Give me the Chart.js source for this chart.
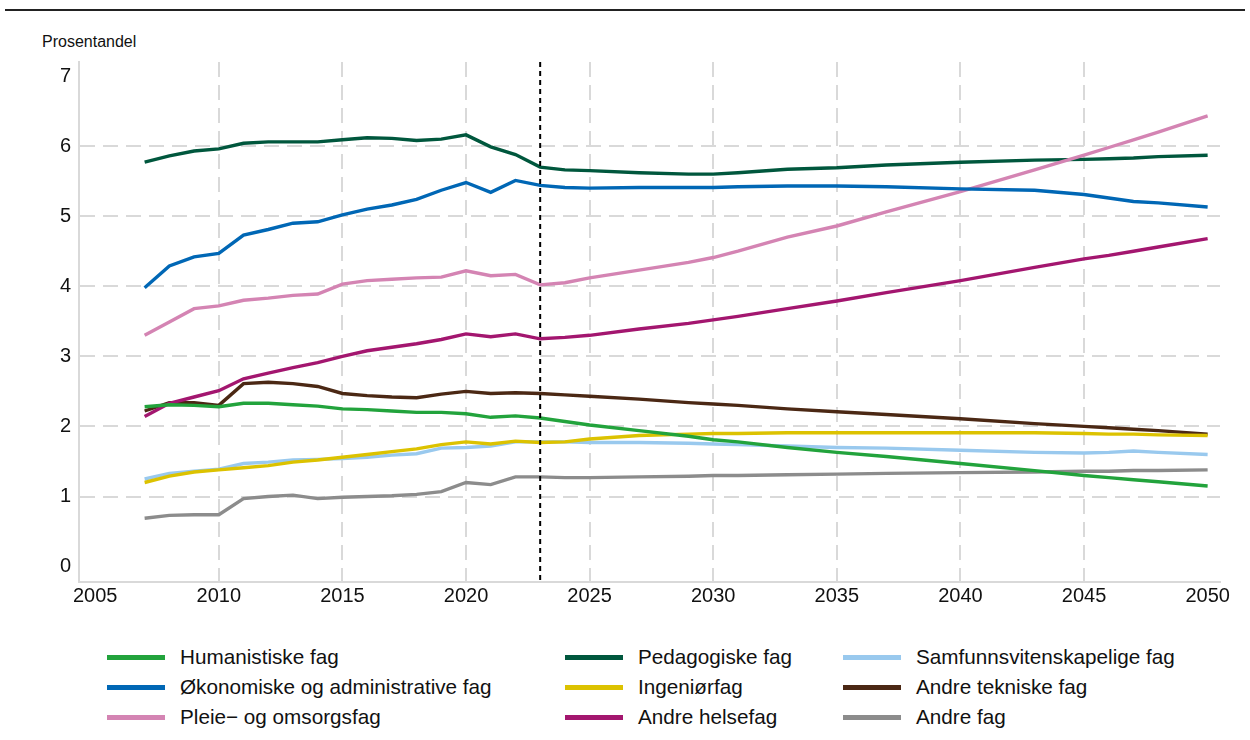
<!DOCTYPE html>
<html lang="no">
<head>
<meta charset="UTF-8">
<title>Prosentandel etter fagfelt</title>
<script src="https://cdn.jsdelivr.net/npm/chart.js"></script>
<style>
    body, html {
        margin: 0;
        padding: 0;
        background: #fff;
        font-family: "Liberation Sans", Arial, sans-serif;
    }
    .page {
        position: relative;
        width: 1250px;
        height: 740px;
        overflow: hidden;
    }
    .top-rule {
        position: absolute;
        left: 5px;
        right: 5px;
        top: 9px;
        height: 2px;
        background: #222;
    }
    .y-title {
        position: absolute;
        left: 42px;
        top: 33px;
        font-size: 16px;
        color: #111;
    }
    .chart-box {
        position: absolute;
        left: 0;
        top: 0;
        width: 1250px;
        height: 610px;
    }
    .legend {
        position: absolute;
        top: 642px;
        left: 0;
        width: 1250px;
    }
    .legend-item {
        position: absolute;
        height: 30px;
        font-size: 20.7px;
        color: #111;
        white-space: nowrap;
    }
    .legend-item span.swatch {
        position: absolute;
        left: 0;
        top: 13px;
        width: 58px;
        height: 5px;
    }
    .legend-item span.label {
        position: absolute;
        left: 73px;
        top: 3px;
    }
</style>
</head>
<body>
<div class="page">
    <div class="top-rule"></div>
    <div class="y-title">Prosentandel</div>
    <div class="chart-box"><canvas id="chart"></canvas></div>
    <div class="legend" id="legend"></div>
</div>
<script>
// years: annual history, then the projection years
const years = [2007, 2008, 2009, 2010, 2011, 2012, 2013, 2014, 2015, 2016, 2017, 2018, 2019, 2020, 2021, 2022, 2023, 2024,
               2025, 2027, 2029, 2030, 2031, 2033, 2035, 2037, 2040, 2043, 2045, 2046, 2047, 2048, 2050];

const humanistiske = [2.28, 2.31, 2.30, 2.28, 2.33, 2.33, 2.31, 2.29, 2.25, 2.24, 2.22, 2.20, 2.20, 2.18, 2.13, 2.15, 2.12, 2.07,
                      2.02, 1.94, 1.86, 1.81, 1.78, 1.70, 1.63, 1.57, 1.47, 1.37, 1.30, 1.27, 1.24, 1.21, 1.15];
const pedagogiske = [5.77, 5.86, 5.93, 5.96, 6.04, 6.06, 6.06, 6.06, 6.09, 6.12, 6.11, 6.08, 6.10, 6.16, 5.99, 5.88, 5.70, 5.66,
                     5.65, 5.62, 5.60, 5.60, 5.62, 5.67, 5.69, 5.73, 5.77, 5.80, 5.81, 5.82, 5.83, 5.85, 5.87];
const samfunn = [1.25, 1.33, 1.36, 1.39, 1.47, 1.49, 1.52, 1.53, 1.54, 1.56, 1.59, 1.61, 1.69, 1.70, 1.72, 1.78, 1.78, 1.78,
                 1.77, 1.77, 1.76, 1.75, 1.74, 1.72, 1.70, 1.69, 1.66, 1.63, 1.62, 1.63, 1.65, 1.63, 1.60];
const okonomiske = [3.98, 4.29, 4.42, 4.47, 4.73, 4.81, 4.90, 4.92, 5.02, 5.10, 5.16, 5.24, 5.37, 5.48, 5.34, 5.51, 5.44, 5.41,
                    5.40, 5.41, 5.41, 5.41, 5.42, 5.43, 5.43, 5.42, 5.39, 5.37, 5.31, 5.26, 5.21, 5.19, 5.13];
const ingenior = [1.20, 1.29, 1.35, 1.38, 1.41, 1.44, 1.49, 1.52, 1.56, 1.60, 1.64, 1.68, 1.74, 1.78, 1.75, 1.79, 1.77, 1.78,
                  1.82, 1.87, 1.89, 1.90, 1.90, 1.91, 1.91, 1.91, 1.91, 1.91, 1.90, 1.89, 1.89, 1.88, 1.87];
const tekniske = [2.22, 2.34, 2.34, 2.30, 2.61, 2.63, 2.61, 2.57, 2.47, 2.44, 2.42, 2.41, 2.46, 2.50, 2.47, 2.48, 2.47, 2.45,
                  2.43, 2.39, 2.34, 2.32, 2.30, 2.25, 2.21, 2.17, 2.11, 2.04, 2.00, 1.98, 1.96, 1.94, 1.89];
const pleie = [3.30, 3.49, 3.68, 3.72, 3.80, 3.83, 3.87, 3.89, 4.03, 4.08, 4.10, 4.12, 4.13, 4.22, 4.15, 4.17, 4.02, 4.05,
               4.12, 4.23, 4.34, 4.41, 4.50, 4.70, 4.86, 5.06, 5.35, 5.66, 5.87, 5.98, 6.09, 6.20, 6.43];
const helsefag = [2.14, 2.33, 2.42, 2.51, 2.68, 2.76, 2.84, 2.91, 3.00, 3.08, 3.13, 3.18, 3.24, 3.32, 3.28, 3.32, 3.25, 3.27,
                  3.30, 3.39, 3.47, 3.52, 3.57, 3.68, 3.79, 3.91, 4.08, 4.27, 4.39, 4.44, 4.50, 4.56, 4.68];
const andreFag = [0.69, 0.73, 0.74, 0.74, 0.97, 1.00, 1.02, 0.97, 0.99, 1.00, 1.01, 1.03, 1.07, 1.20, 1.17, 1.28, 1.28, 1.27,
                  1.27, 1.28, 1.29, 1.30, 1.30, 1.31, 1.32, 1.33, 1.34, 1.35, 1.36, 1.36, 1.37, 1.37, 1.38];

const xTicks = [2005, 2010, 2015, 2020, 2025, 2030, 2035, 2040, 2045, 2050];
const yTicks = [0, 1, 2, 3, 4, 5, 6, 7];
const markerYear = 2023;

// legend order: column by column, three rows
const series = [
    { label: 'Humanistiske fag', data: humanistiske, color: '#22a33c' },
    { label: 'Økonomiske og administrative fag', data: okonomiske, color: '#0067b5' },
    { label: 'Pleie\u2212 og omsorgsfag', data: pleie, color: '#d484b3' },
    { label: 'Pedagogiske fag', data: pedagogiske, color: '#00573d' },
    { label: 'Ingeniørfag', data: ingenior, color: '#dcc200' },
    { label: 'Andre helsefag', data: helsefag, color: '#a3166f' },
    { label: 'Samfunnsvitenskapelige fag', data: samfunn, color: '#99c9ee' },
    { label: 'Andre tekniske fag', data: tekniske, color: '#4b2814' },
    { label: 'Andre fag', data: andreFag, color: '#8c8c8c' }
];

const gridColor = '#d9d9d9';
const tickFont = { family: '"Liberation Sans", Arial, sans-serif', size: 20 };

// dotted vertical line at the last observed year
const markerLine = {
    id: 'markerLine',
    afterDatasetsDraw(chart) {
        const { ctx, chartArea, scales } = chart;
        const x = scales.x.getPixelForValue(markerYear);
        ctx.save();
        ctx.strokeStyle = '#000';
        ctx.lineWidth = 2;
        ctx.setLineDash([5, 4]);
        ctx.beginPath();
        ctx.moveTo(x, chartArea.top);
        ctx.lineTo(x, chartArea.bottom);
        ctx.stroke();
        ctx.restore();
    }
};

const ctx = document.getElementById('chart').getContext('2d');
new Chart(ctx, {
    type: 'line',
    data: {
        datasets: series.map(s => ({
            label: s.label,
            data: years.map((yr, i) => ({ x: yr, y: s.data[i] })),
            borderColor: s.color,
            backgroundColor: s.color,
            borderWidth: 3.4,
            pointRadius: 0,
            tension: 0,
            fill: false
        }))
    },
    options: {
        responsive: true,
        maintainAspectRatio: false,
        animation: false,
        layout: { padding: { top: 62, right: 30, left: 52, bottom: 0 } },
        plugins: {
            legend: { display: false },
            tooltip: { enabled: false }
        },
        scales: {
            x: {
                type: 'linear',
                min: 2004.35,
                max: 2050.5,
                afterBuildTicks: scale => { scale.ticks = xTicks.map(v => ({ value: v })); },
                ticks: {
                    color: '#111',
                    font: tickFont,
                    padding: 2,
                    maxRotation: 0,
                    callback: v => String(v)
                },
                grid: {
                    color: c => (c.tick && (c.tick.value === 2005 || c.tick.value === 2050)) ? 'rgba(0,0,0,0)' : gridColor,
                    lineWidth: 2,
                    drawTicks: false
                },
                border: { color: gridColor, width: 2, dash: [15, 8] }
            },
            y: {
                min: -0.22,
                max: 7.2,
                afterBuildTicks: scale => { scale.ticks = yTicks.map(v => ({ value: v })); },
                ticks: {
                    color: '#111',
                    font: tickFont,
                    padding: 8
                },
                grid: {
                    color: c => (c.tick && (c.tick.value === 0 || c.tick.value === 7)) ? 'rgba(0,0,0,0)' : gridColor,
                    lineWidth: 2,
                    drawTicks: false
                },
                border: { color: gridColor, width: 2, dash: [15, 8] }
            }
        }
    },
    plugins: [markerLine]
});

// html legend in three columns
const legendEl = document.getElementById('legend');
const colLeft = [107, 565, 843];
series.forEach((s, i) => {
    const col = Math.floor(i / 3);
    const row = i % 3;
    const item = document.createElement('div');
    item.className = 'legend-item';
    item.style.left = colLeft[col] + 'px';
    item.style.top = (row * 30) + 'px';
    const sw = document.createElement('span');
    sw.className = 'swatch';
    sw.style.background = s.color;
    const lb = document.createElement('span');
    lb.className = 'label';
    lb.textContent = s.label;
    item.appendChild(sw);
    item.appendChild(lb);
    legendEl.appendChild(item);
});
</script>
</body>
</html>
